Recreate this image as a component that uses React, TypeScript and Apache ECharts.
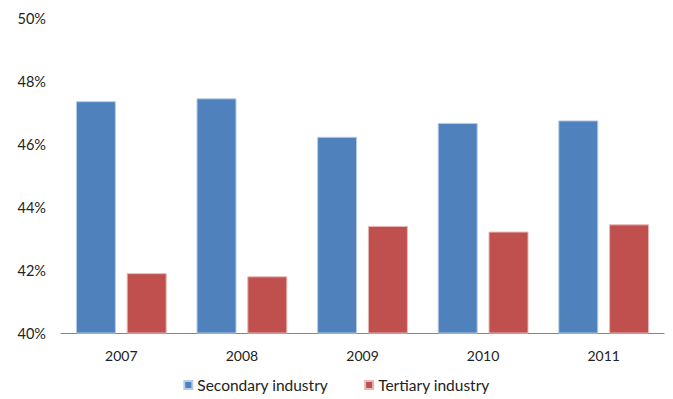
import React, { useEffect, useRef } from "react";
import * as echarts from "echarts";

const categories = ["2007", "2008", "2009", "2010", "2011"];
const secondary = [47.36, 47.45, 46.23, 46.67, 46.75];
const tertiary = [41.9, 41.8, 43.4, 43.22, 43.45];
const seriesNames = ["Secondary industry", "Tertiary industry"];

const FONT = "Lato, 'Open Sans', sans-serif";

export default function App() {
  const ref = useRef<HTMLDivElement>(null);
  useEffect(() => {
    if (!ref.current) return;
    const chart = echarts.init(ref.current, null, { renderer: "svg" });
    chart.setOption({
      animation: false,
      backgroundColor: "#ffffff",
      grid: { left: 61, right: 9, top: 18, bottom: 66, containLabel: false },
      legend: {
        top: 372,
        left: "center",
        itemWidth: 8,
        itemHeight: 8,
        itemGap: 36,
        icon: "rect",
        textStyle: { fontFamily: FONT, fontSize: 15.5, color: "#222" },
        data: seriesNames,
      },
      xAxis: {
        type: "category",
        data: categories,
        axisLine: { lineStyle: { color: "#868686", width: 1 } },
        axisTick: { show: false },
        axisLabel: { fontFamily: FONT, fontSize: 14, color: "#222", margin: 15 },
      },
      yAxis: {
        type: "value",
        min: 40,
        max: 50,
        interval: 2,
        axisLine: { show: false },
        axisTick: { show: false },
        splitLine: { show: false },
        axisLabel: {
          fontFamily: FONT,
          fontSize: 14.5,
          color: "#222",
          margin: 15,
          formatter: (v: number) => v + "%",
        },
      },
      series: [
        {
          name: seriesNames[0],
          type: "bar",
          data: secondary,
          barWidth: 40,
          barGap: "27%",
          itemStyle: { color: "#4F81BD", borderColor: "#B9CDE5", borderWidth: 1 },
        },
        {
          name: seriesNames[1],
          type: "bar",
          data: tertiary,
          barWidth: 40,
          itemStyle: { color: "#C0504D", borderColor: "#E6B9B8", borderWidth: 1 },
        },
      ],
    });
    return () => chart.dispose();
  }, []);
  return (
    <div
      ref={ref}
      style={{ position: "absolute", left: 0, top: 0, width: 673, height: 399 }}
    />
  );
}
